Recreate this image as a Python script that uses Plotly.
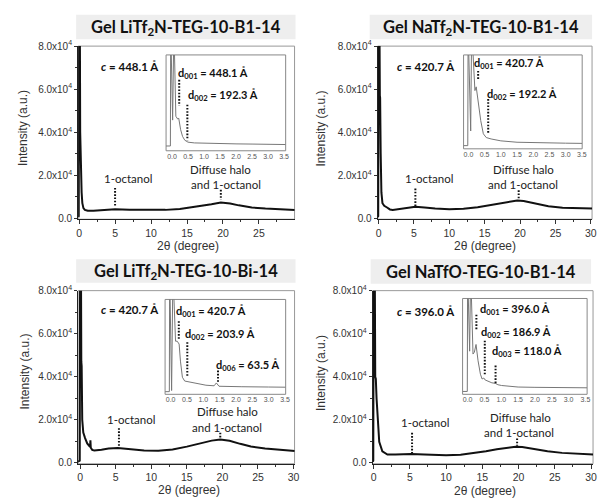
import plotly.graph_objects as go

W, H = 602, 502

# ---------------- data ----------------
titles = ["Gel LiTf<sub>2</sub>N-TEG-10-B1-14", "Gel NaTf<sub>2</sub>N-TEG-10-B1-14",
          "Gel LiTf<sub>2</sub>N-TEG-10-Bi-14", "Gel NaTfO-TEG-10-B1-14"]
c_labels = ["448.1", "420.7", "420.7", "396.0"]

y_tickvals = [0, 20000, 40000, 60000, 80000]
y_ticktext = ["0.0", "2.0x10<sup>4</sup>", "4.0x10<sup>4</sup>", "6.0x10<sup>4</sup>", "8.0x10<sup>4</sup>"]
inset_tickvals = [0, 0.5, 1.0, 1.5, 2.0, 2.5, 3.0, 3.5]
inset_ticktext = ["0.0", "0.5", "1.0", "1.5", "2.0", "2.5", "3.0", "3.5"]

# main curves (2theta, intensity)
p1_x = [-0.1, -0.05, 0.0, 0.1, 0.15, 0.2, 0.28, 0.35, 0.45, 0.6, 0.8, 1.2, 2.0, 3.0, 4.0, 5.0, 7.0, 10.0, 12.0, 14.0, 15.6, 17.0, 18.4, 19.7, 21.0, 22.2, 24.0, 25.9, 28.0, 30.0]
p1_y = [500, 1000, 95000, 95000, 40000, 30000, 27000, 12000, 7000, 4700, 3900, 3500, 3500, 3700, 4000, 4200, 4000, 3800, 3900, 4300, 5000, 5800, 6500, 7300, 6900, 6000, 5000, 4500, 4100, 3800]

p2_x = [-0.1, -0.05, 0.0, 0.12, 0.18, 0.22, 0.3, 0.4, 0.55, 0.8, 1.2, 1.6, 2.0, 3.0, 4.0, 5.2, 6.5, 8.0, 10.0, 12.0, 14.0, 15.5, 17.0, 18.5, 19.6, 20.5, 22.0, 24.0, 26.0, 28.0, 30.2]
p2_y = [500, 1000, 95000, 95000, 57000, 56000, 30000, 12000, 7000, 5800, 5000, 4100, 3900, 4400, 5000, 5400, 5000, 4500, 4200, 4400, 5100, 5900, 6900, 7800, 8300, 8000, 6900, 5600, 4900, 4600, 4500]

p3_x = [-0.3, -0.05, 0.0, 0.12, 0.17, 0.22, 0.3, 0.45, 0.7, 1.0, 1.3, 1.4, 1.45, 1.5, 1.7, 2.0, 3.0, 4.0, 5.3, 7.0, 9.0, 11.0, 13.0, 15.0, 17.0, 18.5, 19.7, 21.0, 22.5, 24.0, 26.0, 28.0, 30.2]
p3_y = [500, 1000, 95000, 95000, 47000, 45000, 20000, 14000, 11500, 9000, 7800, 7500, 10500, 7000, 6000, 5700, 6100, 6600, 6900, 6400, 5700, 5600, 6200, 7500, 9000, 10300, 10800, 10200, 8800, 7600, 6600, 6000, 5500]

p4_x = [-0.1, -0.05, 0.0, 0.15, 0.22, 0.3, 0.4, 0.55, 0.77, 1.2, 1.9, 3.0, 4.0, 5.2, 7.0, 10.0, 12.0, 14.0, 15.5, 17.0, 18.5, 19.6, 20.5, 22.0, 24.0, 26.0, 28.0, 30.3]
p4_y = [500, 1000, 95000, 95000, 40000, 39000, 30000, 18900, 9800, 5300, 3800, 3900, 4000, 4100, 3900, 3500, 3700, 4500, 5400, 6300, 7100, 7500, 7300, 6400, 5400, 4600, 4100, 3800]

# inset curves (2theta, relative intensity in inset scale 0-100)
i1_x = [-0.19, -0.05, -0.04, 0.02, 0.06, 0.12, 0.18, 0.21, 0.27, 0.33, 0.4, 0.5, 0.7, 1.0, 1.5, 2.0, 2.5, 3.0, 3.55]
i1_y = [5, 5, 130, 32, 130, 36, 33, 34, 22, 15, 11, 9, 8.2, 7.8, 7.4, 7.2, 7.0, 6.8, 6.5]

i2_x = [-0.15, -0.02, -0.01, 0.07, 0.1, 0.2, 0.24, 0.3, 0.38, 0.46, 0.55, 0.7, 1.0, 1.5, 2.0, 2.5, 3.0, 3.51]
i2_y = [3.4, 3.4, 130, 19, 130, 62, 66, 50, 30, 16, 12, 10.5, 8.5, 7.0, 6.5, 6.2, 6.0, 5.8]

i3_x = [-0.17, -0.04, -0.03, 0.03, 0.07, 0.15, 0.2, 0.26, 0.3, 0.36, 0.43, 0.58, 0.78, 1.08, 1.33, 1.4, 1.48, 1.7, 2.18, 3.0, 3.52]
i3_y = [2.8, 2.8, 130, 4, 130, 56, 56, 53, 35, 18, 14, 13, 11, 9.6, 9.0, 12, 8.5, 8.2, 8.0, 7.7, 7.5]

i4_x = [-0.15, -0.01, 0.0, 0.06, 0.09, 0.16, 0.2, 0.25, 0.31, 0.38, 0.43, 0.48, 0.52, 0.58, 0.72, 0.82, 0.9, 1.01, 1.5, 2.0, 2.5, 3.0, 3.55]
i4_y = [3, 3, 130, 45, 130, 42, 44, 52, 35, 21, 16, 17, 15, 14, 12, 11.5, 10, 9.2, 7.6, 7.3, 7.1, 7.0, 6.8]

# reflection labels in insets: (label, spacing)
i1_refl = [("001", "448.1"), ("002", "192.3")]
i2_refl = [("001", "420.7"), ("002", "192.2")]
i3_refl = [("001", "420.7"), ("002", "203.9"), ("006", "63.5")]
i4_refl = [("001", "396.0"), ("002", "186.9"), ("003", "118.0")]

# ---------------- layout geometry (pixels) ----------------
def px_x(a, b):
    return [a / W, b / W]

def px_y(t, b):
    return [1 - b / H, 1 - t / H]

mains = [
    dict(xd=(77, 296), yd=(40, 217), xr=[-0.14, 29.95], yr=[-455, 80000], curve=(p1_x, p1_y)),
    dict(xd=(380, 597), yd=(40, 217), xr=[-0.14, 30.17], yr=[-455, 80000], curve=(p2_x, p2_y)),
    dict(xd=(77, 296), yd=(290, 467), xr=[-0.28, 30.14], yr=[-460, 80000], curve=(p3_x, p3_y)),
    dict(xd=(375, 598), yd=(290, 467), xr=[-0.14, 30.28], yr=[-460, 80000], curve=(p4_x, p4_y)),
]
insets = [
    dict(xd=(166, 287), yd=(49, 147), xr=[-0.185, 3.55], curve=(i1_x, i1_y)),
    dict(xd=(467, 587), yd=(49, 145), xr=[-0.15, 3.51], curve=(i2_x, i2_y)),
    dict(xd=(165, 287), yd=(299, 396), xr=[-0.17, 3.52], curve=(i3_x, i3_y)),
    dict(xd=(466, 592), yd=(298, 396), xr=[-0.15, 3.55], curve=(i4_x, i4_y)),
]
title_boxes = [(75, 8, 297, 33), (372, 8, 597, 33), (75, 258, 297, 282), (373, 258, 596, 283)]

# annotation positions in data units
main_ann = [
    dict(c=(7.07, 70450), oct=(6.8, 18600), dh=(19.7, 22860), and_=(20.4, 15900), octl=(5.0, 14100, 5900), hl=(19.7, 13200, 8600)),
    dict(c=(6.7, 70450), oct=(7.1, 18300), dh=(20.5, 22860), and_=(20.4, 15900), octl=(5.2, 13800, 5700), hl=(19.8, 13000, 9300)),
    dict(c=(7.08, 71100), oct=(7.2, 20100), dh=(20.7, 23800), and_=(20.6, 16600), octl=(5.46, 16100, 7700), hl=(19.7, 14000, 11300)),
    dict(c=(7.2, 70500), oct=(7.1, 18900), dh=(20.2, 21100), and_=(20.1, 14300), octl=(5.3, 13900, 4600), hl=(19.8, 11300, 7900)),
]
inset_ann = [
    dict(lab=[(1.28, 80.5), (1.6, 58)], lines=[(0.225, 74, 47), (0.48, 48, 11)]),
    dict(lab=[(1.26, 91), (1.64, 58)], lines=[(0.3, 83, 73), (0.61, 53, 15.6)]),
    dict(lab=[(1.25, 87), (1.5, 63), (2.35, 30)], lines=[(0.25, 77, 58), (0.51, 55, 19), (1.45, 25, 13)]),
    dict(lab=[(1.42, 88), (1.45, 64), (1.75, 45)], lines=[(0.26, 83, 68), (0.51, 56, 19.5), (0.83, 30, 11)]),
]
refls = [i1_refl, i2_refl, i3_refl, i4_refl]
xtitle_pos = [(188, 244), (488.5, 244), (189, 494), (489, 495)]
ytitle_pos = [(22, 124), (323, 124), (23, 373), (323, 374)]

# ---------------- build figure ----------------
fig = go.Figure()
layout = dict(width=W, height=H, margin=dict(l=0, r=0, t=0, b=0),
              paper_bgcolor="white", plot_bgcolor="rgba(0,0,0,0)", showlegend=False)
shapes, anns = [], []
AX_FONT = "Liberation Sans, Arial, sans-serif"
TXT_FONT = "Lato, Open Sans, sans-serif"
DOT = "1.6px,1.6px"

for i, m in enumerate(mains):
    n = i + 1
    xa = "xaxis" if n == 1 else f"xaxis{n}"
    ya = "yaxis" if n == 1 else f"yaxis{n}"
    xs = "x" if n == 1 else f"x{n}"
    ys = "y" if n == 1 else f"y{n}"
    layout[xa] = dict(domain=px_x(*m["xd"]), range=m["xr"], anchor=ys, tickmode="linear", tick0=0, dtick=5,
                      ticks="outside", ticklen=4, tickcolor="#333", showline=True, linecolor="#222", linewidth=1,
                      showgrid=False, zeroline=False,
                      minor=dict(dtick=2.5, tick0=0, ticks="outside", ticklen=2, tickcolor="#333"),
                      tickfont=dict(family=AX_FONT, size=10.5, color="#333"))
    layout[ya] = dict(domain=px_y(*m["yd"]), range=m["yr"], anchor=xs, tickmode="array", tickvals=y_tickvals,
                      ticktext=y_ticktext, ticks="outside", ticklen=3, tickcolor="#333", showline=True,
                      linecolor="#222", linewidth=1, showgrid=False, zeroline=False,
                      minor=dict(tickvals=[10000, 30000, 50000, 70000], ticks="outside", ticklen=2, tickcolor="#333"),
                      tickfont=dict(family=AX_FONT, size=10, color="#333"))
    fig.add_trace(go.Scatter(x=m["curve"][0], y=m["curve"][1], mode="lines", xaxis=xs, yaxis=ys,
                             line=dict(color="#111", width=2), hoverinfo="skip"))
    shapes.append(dict(type="rect", xref=f"{xs} domain", yref=f"{ys} domain", x0=0, x1=1, y0=0, y1=1,
                       line=dict(color="#999", width=1), layer="below"))
    # title box
    l, t, r, b = title_boxes[i]
    shapes.append(dict(type="rect", xref="paper", yref="paper", x0=l / W, x1=r / W, y0=1 - b / H, y1=1 - t / H,
                       fillcolor="#eeeeee", line=dict(width=0), layer="below"))
    anns.append(dict(xref="paper", yref="paper", x=(l + r) / 2 / W, y=1 - (t + b) / 2 / H, text=f"<b>{titles[i]}</b>",
                     showarrow=False, xanchor="center", yanchor="middle",
                     font=dict(family=TXT_FONT, size=16.5, color="#111")))
    # axis titles
    xt = xtitle_pos[i]
    anns.append(dict(xref="paper", yref="paper", x=xt[0] / W, y=1 - xt[1] / H, text="2θ (degree)", showarrow=False,
                     xanchor="center", yanchor="middle", font=dict(family=AX_FONT, size=12, color="#333")))
    yt = ytitle_pos[i]
    anns.append(dict(xref="paper", yref="paper", x=yt[0] / W, y=1 - yt[1] / H, text="Intensity (a.u.)",
                     showarrow=False, textangle=-90, xanchor="center", yanchor="middle",
                     font=dict(family=AX_FONT, size=12, color="#333")))
    # main annotations
    a = main_ann[i]
    anns.append(dict(xref=xs, yref=ys, x=a["c"][0], y=a["c"][1], text=f"<b><i>c</i> = {c_labels[i]} Å</b>",
                     showarrow=False, font=dict(family=TXT_FONT, size=11.5, color="#111")))
    for key, txt in (("oct", "1-octanol"), ("dh", "Diffuse halo"), ("and_", "and 1-octanol")):
        anns.append(dict(xref=xs, yref=ys, x=a[key][0], y=a[key][1], text=txt, showarrow=False,
                         font=dict(family=TXT_FONT, size=11.5, color="#222")))
    for key in ("octl", "hl"):
        xv, y0, y1 = a[key]
        shapes.append(dict(type="line", xref=xs, yref=ys, x0=xv, x1=xv, y0=y0, y1=y1,
                           line=dict(color="#111", width=2, dash=DOT)))

for i, ins in enumerate(insets):
    n = i + 5
    xs, ys = f"x{n}", f"y{n}"
    layout[f"xaxis{n}"] = dict(domain=px_x(*ins["xd"]), range=ins["xr"], anchor=ys, tickmode="array",
                               tickvals=inset_tickvals, ticktext=inset_ticktext, ticks="", showline=False,
                               showgrid=False, zeroline=False,
                               tickfont=dict(family=AX_FONT, size=7, color="#555"))
    layout[f"yaxis{n}"] = dict(domain=px_y(*ins["yd"]), range=[0, 100], anchor=xs, showticklabels=False,
                               ticks="", showline=False, showgrid=False, zeroline=False)
    fig.add_trace(go.Scatter(x=ins["curve"][0], y=ins["curve"][1], mode="lines", xaxis=xs, yaxis=ys,
                             line=dict(color="#777", width=1), hoverinfo="skip"))
    shapes.append(dict(type="rect", xref=f"{xs} domain", yref=f"{ys} domain", x0=0, x1=1, y0=0, y1=1,
                       line=dict(color="#888", width=1), layer="below"))
    ia = inset_ann[i]
    for (hkl, d), (lx, ly) in zip(refls[i], ia["lab"]):
        anns.append(dict(xref=xs, yref=ys, x=lx, y=ly, text=f"<b>d<sub>{hkl}</sub> = {d} Å</b>", showarrow=False,
                         font=dict(family=TXT_FONT, size=11, color="#111")))
    for xv, y0, y1 in ia["lines"]:
        shapes.append(dict(type="line", xref=xs, yref=ys, x0=xv, x1=xv, y0=y0, y1=y1,
                           line=dict(color="#111", width=2, dash=DOT)))

layout["shapes"] = shapes
layout["annotations"] = anns
fig.update_layout(**layout)
fig.write_html("out.html", config={"displayModeBar": False},
               post_script="document.body.style.margin='0';document.body.style.overflow='hidden';")
